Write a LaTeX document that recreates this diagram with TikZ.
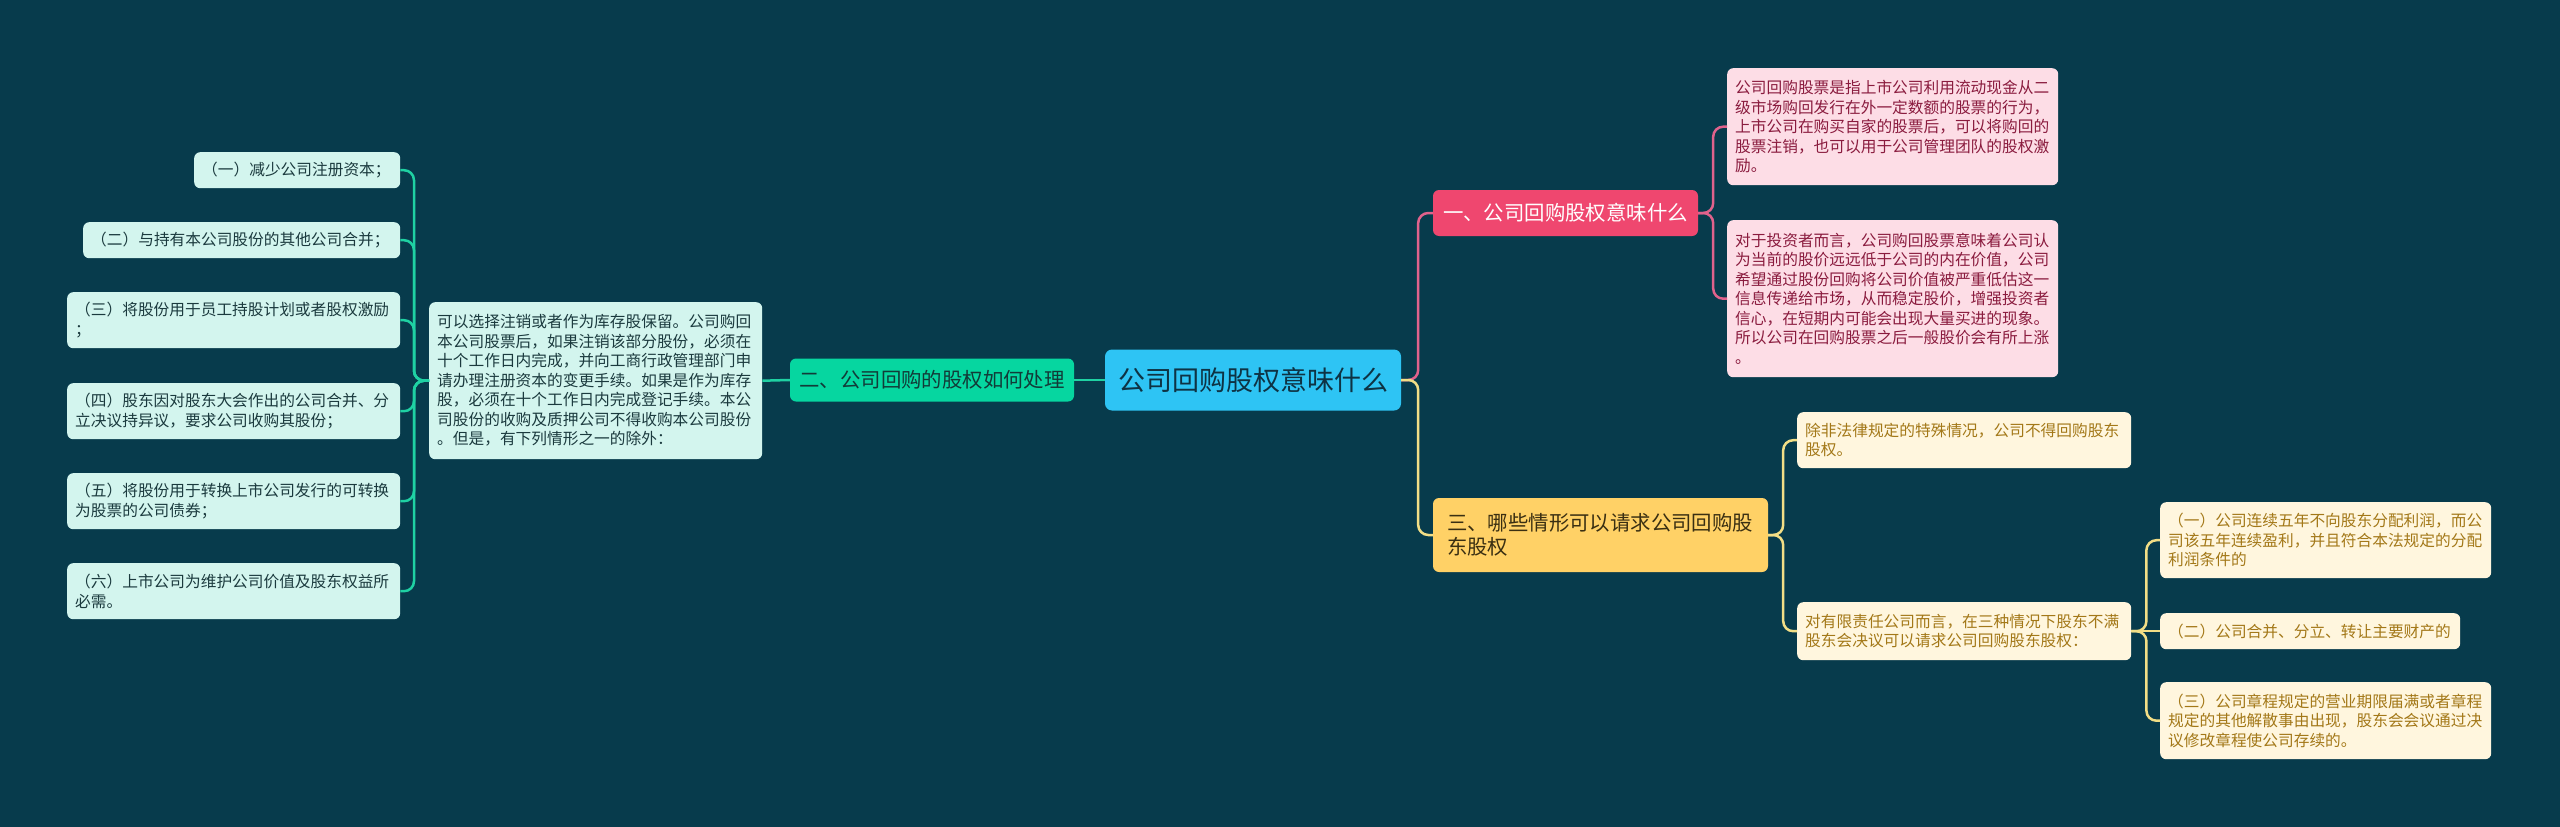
\documentclass[tikz,border=0pt]{standalone}
\usepackage{fontspec}
\setmainfont{Noto Sans CJK SC}
\definecolor{bg}{HTML}{073B4C}
\definecolor{cfill}{HTML}{2EC4F4}
\definecolor{ctext}{HTML}{0E3344}
\definecolor{pinkm}{HTML}{EF476F}
\definecolor{greenm}{HTML}{06D6A0}
\definecolor{yelm}{HTML}{FFD166}
\definecolor{pinkc}{HTML}{E0628C}
\definecolor{greenc}{HTML}{1FD1A3}
\definecolor{yelc}{HTML}{F2DE86}
\definecolor{pfill}{HTML}{FDDDE6}
\definecolor{ptext}{HTML}{8A1B3E}
\definecolor{gfill}{HTML}{D3F5EE}
\definecolor{gtext}{HTML}{1B3A3E}
\definecolor{yfill}{HTML}{FFF6DE}
\definecolor{ytext}{HTML}{A37818}
\definecolor{twotext}{HTML}{123B38}
\definecolor{threetext}{HTML}{3A2F12}
\begin{document}
\begin{tikzpicture}[x=1pt,y=-1pt,
  leaf/.style={rounded corners=6pt, inner xsep=8pt, inner ysep=0pt, align=left,
    anchor=north west, font=\fontsize{15.7pt}{19.5pt}\selectfont},
  pleaf/.style={leaf, fill=pfill, text=ptext},
  gleaf/.style={leaf, fill=gfill, text=gtext},
  yleaf/.style={leaf, fill=yfill, text=ytext},
  branch/.style={rounded corners=6pt, inner sep=0pt, font=\fontsize{20.4pt}{23.5pt}\selectfont},
  conn/.style={line width=2.5pt, rounded corners=10pt},
]
\fill[bg] (0,0) rectangle (2560,827);
\useasboundingbox (0,0) rectangle (2560,827);

% main nodes
\node[rounded corners=7pt, fill=cfill, text=ctext, inner sep=0pt,
  minimum width=296pt, minimum height=61pt,
  font=\fontsize{27pt}{32pt}\selectfont] (c) at (1253,380) {公司回购股权意味什么};
\node[branch, fill=greenm, text=twotext, minimum width=284pt, minimum height=43pt]
  (two) at (932,380) {二、公司回购的股权如何处理};
\node[branch, fill=pinkm, text=white, minimum width=265pt, minimum height=46pt]
  (one) at (1565.5,213) {一、公司回购股权意味什么};
\node[branch, fill=yelm, text=threetext, inner xsep=14pt, text width=307pt,
  minimum height=74pt, align=left] (three) at (1600.5,535)
  {三、哪些情形可以请求公司回购股\\东股权};

% pink leaves
\node[pleaf, text width=315pt, minimum height=117pt] (p1) at (1727,68)
 {公司回购股票是指上市公司利用流动现金从二\\级市场购回发行在外一定数额的股票的行为，\\上市公司在购买自家的股票后，可以将购回的\\股票注销，也可以用于公司管理团队的股权激\\励。};
\node[pleaf, text width=315pt, minimum height=157pt] (p2) at (1727,220)
 {对于投资者而言，公司购回股票意味着公司认\\为当前的股价远远低于公司的内在价值，公司\\希望通过股份回购将公司价值被严重低估这一\\信息传递给市场，从而稳定股价，增强投资者\\信心，在短期内可能会出现大量买进的现象。\\所以公司在回购股票之后一般股价会有所上涨\\。};

% yellow leaves
\node[yleaf, text width=318pt, minimum height=56pt] (y0) at (1797,412)
 {除非法律规定的特殊情况，公司不得回购股东\\股权。};
\node[yleaf, text width=318pt, minimum height=58pt] (ya) at (1797,602)
 {对有限责任公司而言，在三种情况下股东不满\\股东会决议可以请求公司回购股东股权：};
\node[yleaf, text width=315pt, minimum height=76pt] (y1) at (2160,502)
 {（一）公司连续五年不向股东分配利润，而公\\司该五年连续盈利，并且符合本法规定的分配\\利润条件的};
\node[yleaf, text width=284pt, minimum height=36pt] (y2) at (2160,613)
 {（二）公司合并、分立、转让主要财产的};
\node[yleaf, text width=315pt, minimum height=77pt] (y3) at (2160,682)
 {（三）公司章程规定的营业期限届满或者章程\\规定的其他解散事由出现，股东会会议通过决\\议修改章程使公司存续的。};

% green leaves
\node[gleaf, text width=317pt, minimum height=157pt] (big) at (429,302)
 {可以选择注销或者作为库存股保留。公司购回\\本公司股票后，如果注销该部分股份，必须在\\十个工作日内完成，并向工商行政管理部门申\\请办理注册资本的变更手续。如果是作为库存\\股，必须在十个工作日内完成登记手续。本公\\司股份的收购及质押公司不得收购本公司股份\\。但是，有下列情形之一的除外：};
\node[gleaf, text width=190pt, minimum height=36pt] (g1) at (194,152)
 {（一）减少公司注册资本；};
\node[gleaf, text width=301pt, minimum height=36pt] (g2) at (83,222)
 {（二）与持有本公司股份的其他公司合并；};
\node[gleaf, text width=317pt, minimum height=56pt] (g3) at (67,292)
 {（三）将股份用于员工持股计划或者股权激励\\；};
\node[gleaf, text width=317pt, minimum height=56pt] (g4) at (67,383)
 {（四）股东因对股东大会作出的公司合并、分\\立决议持异议，要求公司收购其股份；};
\node[gleaf, text width=317pt, minimum height=56pt] (g5) at (67,473)
 {（五）将股份用于转换上市公司发行的可转换\\为股票的公司债券；};
\node[gleaf, text width=317pt, minimum height=56pt] (g6) at (67,563)
 {（六）上市公司为维护公司价值及股东权益所\\必需。};

% junction points
\coordinate (jR) at ([xshift=17pt]c.east);
\coordinate (jL) at ([xshift=-15pt]big.west);
\coordinate (jP) at ([xshift=15pt]one.east);
\coordinate (jY) at ([xshift=15pt]three.east);
\coordinate (jY2) at ([xshift=15pt]ya.east);

% connectors
\draw[conn, greenc] (c.west) -- (two.east);
\draw[conn, greenc] (two.west) -- (big.east);
\foreach \g in {g1,g2,g3,g4,g5,g6}
  \draw[conn, greenc] (big.west) -- (jL) |- (\g.east);
\draw[conn, pinkc] (c.east) -- (jR) |- (one.west);
\draw[conn, yelc] (c.east) -- (jR) |- (three.west);
\draw[conn, pinkc] (one.east) -- (jP) |- (p1.west);
\draw[conn, pinkc] (one.east) -- (jP) |- (p2.west);
\draw[conn, yelc] (three.east) -- (jY) |- (y0.west);
\draw[conn, yelc] (three.east) -- (jY) |- (ya.west);
\draw[conn, yelc] (ya.east) -- (jY2) |- (y1.west);
\draw[conn, yelc] (ya.east) -- (jY2) -- (y2.west);
\draw[conn, yelc] (ya.east) -- (jY2) |- (y3.west);
\end{tikzpicture}
\end{document}
